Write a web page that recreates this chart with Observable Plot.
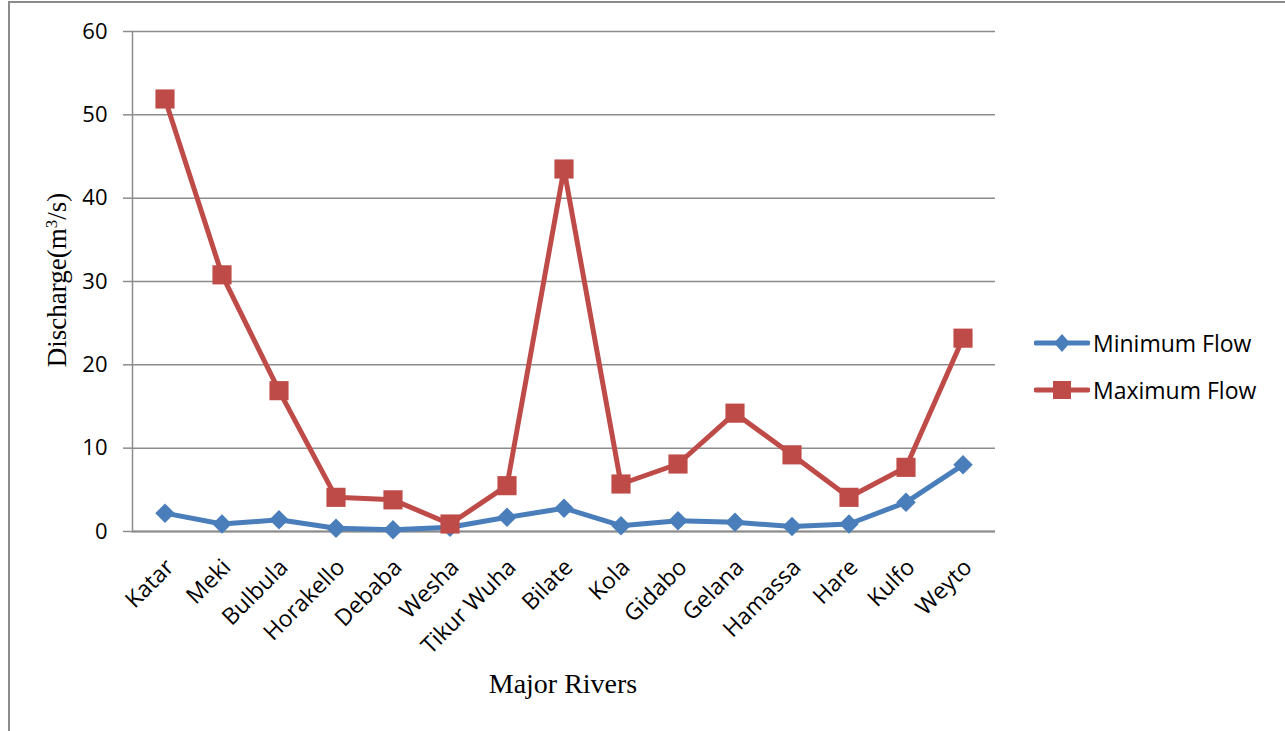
<!DOCTYPE html>
<html>
<head>
<meta charset="utf-8">
<script src="https://cdn.jsdelivr.net/npm/d3@7"></script>
<script src="https://cdn.jsdelivr.net/npm/@observablehq/plot@0.6"></script>
<style>
  html, body { margin: 0; padding: 0; background: #fff; }
  #wrap { position: relative; width: 1285px; height: 731px; overflow: hidden; }
  #border { position: absolute; left: 8px; top: 1px; width: 1300px; height: 760px;
            border-left: 2px solid #8c8c8c; border-top: 2px solid #8c8c8c; box-sizing: border-box; }
  #chart { position: absolute; left: 0; top: 0; }
  #chart g[aria-label="x-axis tick label"] { font-size: 23px !important; }
  #chart g[aria-label="y-axis tick label"] { font-size: 22px !important; }
  #legend { position: absolute; left: 1034px; top: 326px; font-family: "Open Sans", Lato, sans-serif;
            font-size: 23px; color: #000; }
  .item { display: flex; align-items: center; height: 34px; margin-bottom: 13px; }
  .item svg { margin-right: 3px; }
  .ytitle { position: absolute; font-family: "Liberation Serif", "DejaVu Serif", serif; font-size: 27px;
            left: 57px; top: 280px; transform: translate(-50%, -50%) rotate(-90deg); white-space: nowrap; line-height: 1; }
  .xtitle { position: absolute; font-family: "Liberation Serif", "DejaVu Serif", serif; font-size: 28px;
            left: 563px; top: 684px; transform: translate(-50%, -50%); white-space: nowrap; line-height: 1; }
</style>
</head>
<body>
<div id="wrap">
  <div id="border"></div>
  <div id="chart"></div>
  <div class="ytitle">Discharge(m<sup style="font-size:17px;vertical-align:9px;line-height:0">3</sup>/s)</div>
  <div class="xtitle">Major Rivers</div>
  <div id="legend"></div>
</div>
<script>
const rivers = ["Katar","Meki","Bulbula","Horakello","Debaba","Wesha","Tikur Wuha","Bilate","Kola","Gidabo","Gelana","Hamassa","Hare","Kulfo","Weyto"];
const minFlow = [2.2, 0.9, 1.4, 0.4, 0.2, 0.5, 1.7, 2.8, 0.7, 1.3, 1.1, 0.6, 0.9, 3.5, 8.0];
const maxFlow = [51.9, 30.8, 16.9, 4.1, 3.8, 0.9, 5.5, 43.5, 5.7, 8.1, 14.2, 9.2, 4.1, 7.7, 23.2];
const yTicks = [0, 10, 20, 30, 40, 50, 60];
const seriesNames = ["Minimum Flow", "Maximum Flow"];
const seriesColors = ["#4A7EBB", "#BE4B48"];

const minData = rivers.map((r, i) => ({river: r, value: minFlow[i]}));
const maxData = rivers.map((r, i) => ({river: r, value: maxFlow[i]}));

const grey = "#8c8c8c";
const chart = Plot.plot({
  width: 1285,
  height: 731,
  marginLeft: 132,
  marginRight: 290,
  marginTop: 31,
  marginBottom: 200,
  style: {background: "transparent", fontFamily: "'Open Sans', Lato, sans-serif"},
  x: {type: "band", domain: rivers, padding: 0},
  y: {domain: [0, 60], ticks: yTicks},
  marks: [
    Plot.gridY(yTicks, {stroke: grey, strokeOpacity: 1, strokeWidth: 1.5}),
    Plot.axisY(yTicks, {tickSize: 9, tickPadding: 16, stroke: grey, strokeWidth: 1.5, fontSize: 22, fill: "#000", label: null}),
    Plot.ruleY([0], {stroke: grey, strokeWidth: 2}),
    Plot.frame({anchor: "left", stroke: grey, strokeWidth: 1.5}),
    Plot.axisX({tickSize: 0, tickRotate: -45, fontSize: 23, fill: "#000", label: null, tickPadding: 0, dx: 5, dy: 32}),
    Plot.line(minData, {x: "river", y: "value", stroke: seriesColors[0], strokeWidth: 5}),
    Plot.line(maxData, {x: "river", y: "value", stroke: seriesColors[1], strokeWidth: 5}),
    Plot.dot(minData, {x: "river", y: "value", symbol: "diamond2", r: 8.8, fill: seriesColors[0], stroke: "none"}),
    Plot.dot(maxData, {x: "river", y: "value", symbol: "square", r: 10.8, fill: seriesColors[1], stroke: "none"})
  ]
});
document.getElementById("chart").appendChild(chart);

const legend = document.getElementById("legend");
seriesNames.forEach((name, i) => {
  const div = document.createElement("div");
  div.className = "item";
  const marker = i === 0
    ? `<path d="M28,8 L36,17 L28,26 L20,17 Z" fill="${seriesColors[i]}"/>`
    : `<rect x="19" y="8" width="18" height="18" fill="${seriesColors[i]}"/>`;
  div.innerHTML = `<svg width="56" height="34"><line x1="2" y1="17" x2="54" y2="17" stroke="${seriesColors[i]}" stroke-width="5" stroke-linecap="round"/>${marker}</svg><span>${name}</span>`;
  legend.appendChild(div);
});
</script>
</body>
</html>
